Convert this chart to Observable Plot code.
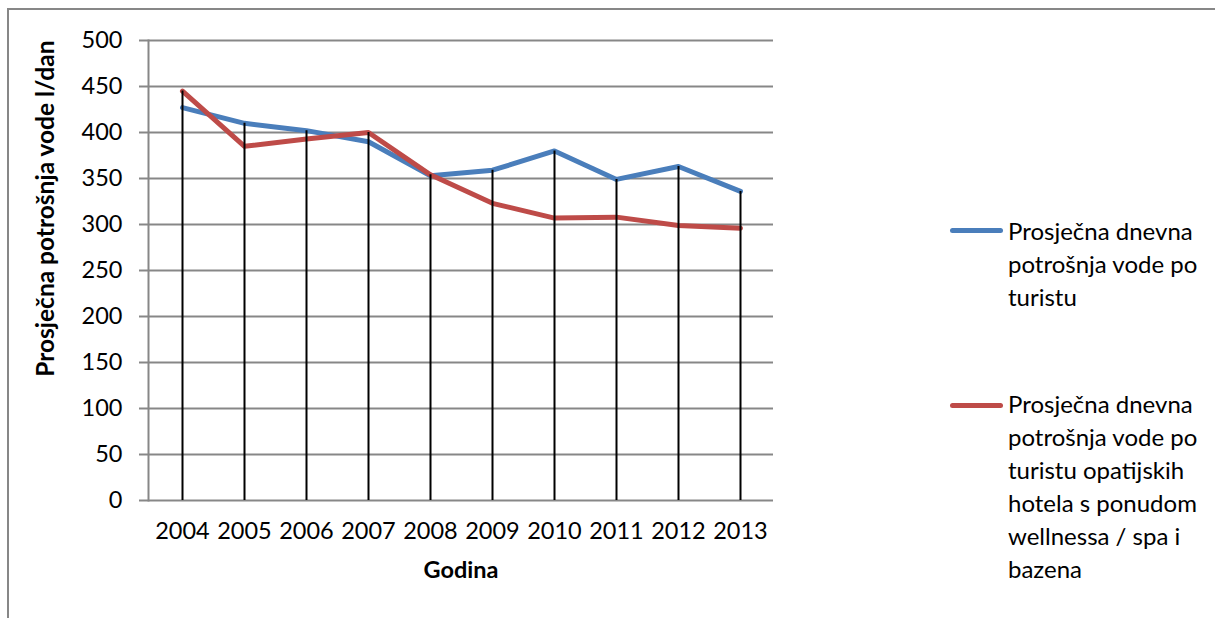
<!DOCTYPE html>
<html><head><meta charset="utf-8">
<script src="https://cdn.jsdelivr.net/npm/d3@7"></script>
<script src="https://cdn.jsdelivr.net/npm/@observablehq/plot@0.6"></script>
<style>
body{margin:0;background:#fff;font-family:Lato,sans-serif;color:#000;}
#wrap{position:relative;width:1215px;height:618px;overflow:hidden;}
#border{position:absolute;left:7px;top:8px;width:1230px;height:640px;border-left:2px solid #878787;border-top:2px solid #878787;pointer-events:none;}
#chart{position:absolute;left:0;top:0;}
.leg{position:absolute;left:1008px;font-size:24px;line-height:33px;white-space:nowrap;font-family:Lato,sans-serif;}
.sw{position:absolute;left:950px;width:53px;height:5px;border-radius:3px;}
</style></head>
<body>
<div id="wrap">
  <div id="chart"></div>
  <div id="border"></div>
  <div class="sw" id="sw1" style="top:227.5px"></div>
  <div class="leg" id="leg1" style="top:214px"></div>
  <div class="sw" id="sw2" style="top:402.5px"></div>
  <div class="leg" id="leg2" style="top:387px"></div>
</div>
<script>
const years = ["2004","2005","2006","2007","2008","2009","2010","2011","2012","2013"];
const prosjekTurist = [427, 410, 402, 390, 353, 359, 380, 349, 363, 336];
const prosjekHoteli = [445, 385, 393, 400, 354, 323, 307, 308, 299, 296];
const yTicks = [0, 50, 100, 150, 200, 250, 300, 350, 400, 450, 500];
const seriesColors = ["#4a7ebb", "#be4b48"];
const legendLines1 = ["Prosječna dnevna", "potrošnja vode po", "turistu"];
const legendLines2 = ["Prosječna dnevna", "potrošnja vode po", "turistu opatijskih", "hotela s ponudom", "wellnessa / spa i", "bazena"];
const yTitle = "Prosječna potrošnja vode l/dan";
const xTitle = "Godina";

const rows = years.map((y, i) => ({year: y, a: prosjekTurist[i], b: prosjekHoteli[i]}));

const chart = Plot.plot({
  width: 1215, height: 618,
  marginLeft: 148, marginRight: 442, marginTop: 40, marginBottom: 118,
  style: {fontFamily: "Lato, sans-serif", fontSize: "23px", color: "#000", background: "transparent", overflow: "visible"},
  x: {type: "point", domain: years, padding: 0.5},
  y: {domain: [0, 500]},
  marks: [
    Plot.gridY(yTicks, {stroke: "#878787", strokeOpacity: 1, strokeWidth: 2}),
    Plot.frame({anchor: "left", stroke: "#878787", strokeWidth: 2}),
    Plot.line(rows, {x: "year", y: "a", stroke: seriesColors[0], strokeWidth: 5, strokeLinejoin: "round", strokeLinecap: "round"}),
    Plot.line(rows, {x: "year", y: "b", stroke: seriesColors[1], strokeWidth: 5, strokeLinejoin: "round", strokeLinecap: "round"}),
    Plot.ruleX(rows, {x: "year", y1: 0, y2: d => Math.max(d.a, d.b), stroke: "#000", strokeWidth: 2}),
    Plot.axisY(yTicks, {tickSize: 9, tickPadding: 17, stroke: "#878787", strokeWidth: 2, label: null, fontSize: 23.5}),
    Plot.axisX({tickSize: 0, tickPadding: 22, label: null, fontSize: 23.5}),
    Plot.text([yTitle], {frameAnchor: "top-left", rotate: -90, textAnchor: "end", dx: -112, fontWeight: "bold", fontSize: 24.5}),
    Plot.text([xTitle], {frameAnchor: "bottom", dy: 77.6, fontWeight: "bold", fontSize: 23.5})
  ]
});
document.getElementById("chart").appendChild(chart);

document.getElementById("sw1").style.background = seriesColors[0];
document.getElementById("sw2").style.background = seriesColors[1];
document.getElementById("leg1").innerHTML = legendLines1.map(t => `<div>${t}</div>`).join("");
document.getElementById("leg2").innerHTML = legendLines2.map(t => `<div>${t}</div>`).join("");
</script>
</body></html>
